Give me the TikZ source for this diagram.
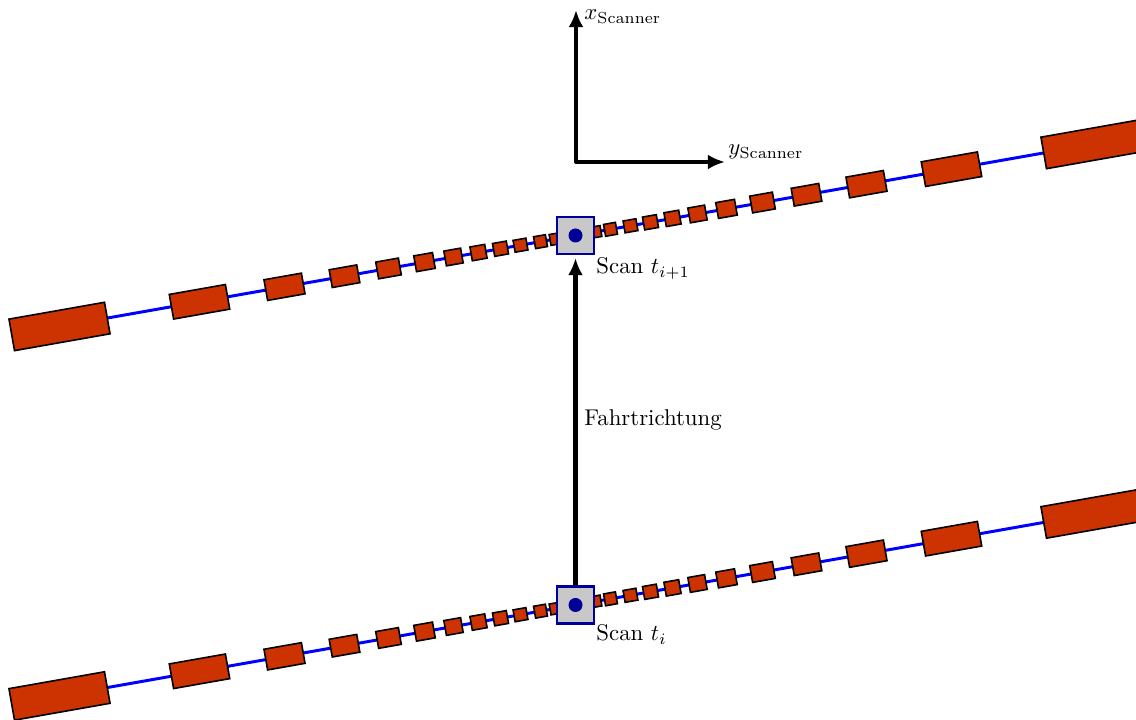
\documentclass[tikz,border=0pt]{standalone}
\usetikzlibrary{calc,arrows.meta}
\definecolor{segred}{HTML}{CC3300}
\definecolor{scanblue}{HTML}{0000FF}
\definecolor{navyblue}{HTML}{000099}
\definecolor{boxgray}{HTML}{C8C8C8}
\newcommand\pxu{0.4386pt}
\begin{document}
\begin{tikzpicture}[x=0.4386pt,y=0.4386pt,
  seg/.style={draw=black, fill=segred, line width=0.7pt, inner sep=0pt, rotate=10},
  scanline/.style={draw=scanblue, line width=1.3pt},
  scanbox/.style={draw=navyblue, fill=boxgray, line width=0.9pt, minimum size=37*\pxu, inner sep=0pt},
  scandot/.style={circle, fill=navyblue, inner sep=0pt, minimum size=14*\pxu},
  axis/.style={line width=1.8pt, line join=round, -{Latex[length=7.5pt,width=6.5pt]}},
  lbl/.style={inner sep=0pt, anchor=base west}]
\useasboundingbox (0,0) rectangle (1136,720);
\coordinate (cU) at (575.5,484.5);
\coordinate (cL) at (575.5,115);
% scan lines
\foreach \c in {U,L}{
  \coordinate (end-\c-L) at ($(c\c)+(190:{516*1.0154})$);
  \coordinate (end-\c-R) at ($(c\c)+(10:{516*1.0154})$);
  \draw[scanline] (end-\c-L) -- (end-\c-R);
}
% measured segments
\foreach \c in {U,L}{
  \foreach \d/\w/\h [count=\i] in {20/11/11, 35/12/12, 55/13/12, 75/14/13, 97/15/14, 122/17/15, 151/19/16, 187/23/17, 231/28/18, 291/38/21, 376/57/25, 516/97/32}{
    \node[seg, minimum width=\w*\pxu, minimum height=\h*\pxu] (rect-\c-R-\i) at ($(c\c)+(10:{\d*1.0154})$) {};
    \node[seg, minimum width=\w*\pxu, minimum height=\h*\pxu] (rect-\c-L-\i) at ($(c\c)+(190:{\d*1.0154})$) {};
  }
}
% scanners
\node[scanbox] (sU) at (cU) {};
\node[scandot] (dU) at (cU) {};
\node[scanbox] (sL) at (cL) {};
\node[scandot] (dL) at (cL) {};
\node[lbl] (labU) at (596,446) {Scan $t_{i+1}$};
\node[lbl] (labL) at (596,79) {Scan $t_i$};
% driving direction
\draw[axis, shorten >=1.3pt] (sL.north) -- (sU.south)
  node[midway, right, inner sep=3pt] (fahrt) {Fahrtrichtung};
% scanner axes
\coordinate (O) at (576,558);
\coordinate (XT) at (576,710);
\coordinate (YT) at (725,558);
\draw[axis, {Latex[length=7.5pt,width=6.5pt]}-{Latex[length=7.5pt,width=6.5pt]}] (XT) -- (O) -- (YT);
\node[lbl] (xlab) at (584,700) {$x_{\mathrm{Scanner}}$};
\node[lbl] (ylab) at (728,565) {$y_{\mathrm{Scanner}}$};
\end{tikzpicture}
\end{document}
